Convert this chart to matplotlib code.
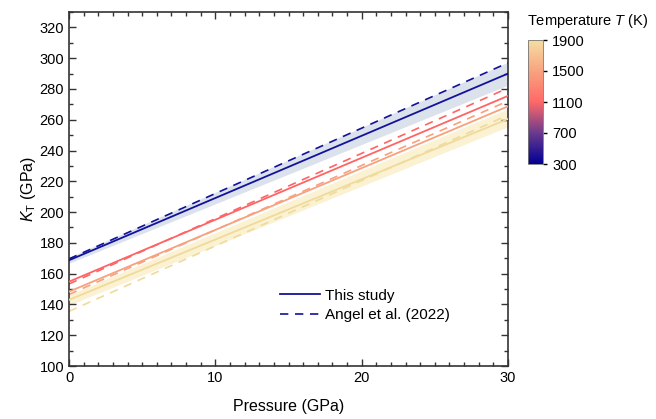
import matplotlib
matplotlib.use("Agg")
import matplotlib.pyplot as plt
from matplotlib.colors import LinearSegmentedColormap, Normalize
from matplotlib.ticker import MultipleLocator
from matplotlib.lines import Line2D
import matplotlib.cm as cm

plt.rcParams['font.family'] = ['Liberation Sans', 'DejaVu Sans']
plt.rcParams['mathtext.fontset'] = 'custom'
plt.rcParams['mathtext.rm'] = 'Liberation Sans'
plt.rcParams['mathtext.it'] = 'Liberation Sans:italic'

# ---- data ----
pressure = [0, 30]
temperatures = [300, 1100, 1500, 1900]
this_study = {
    300: [168.7, 290.0],
    1100: [154.8, 275.5],
    1500: [148.3, 268.7],
    1900: [143.0, 260.5],
}
angel2022 = {
    300: [169.6, 297.0],
    1100: [153.3, 280.6],
    1500: [146.5, 272.2],
    1900: [135.5, 263.0],
}
band_lo = {300: [166.8, 282.5], 1900: [139.6, 255.5]}
band_hi = {300: [170.6, 297.4], 1900: [146.3, 267.2]}
line_colors = {300: '#12129a', 1100: '#ff6464', 1500: '#f9a07c', 1900: '#f0da9c'}
band_colors = {300: '#dbe2ec', 1900: '#faf2d2'}
cbar_ticks = [300, 700, 1100, 1500, 1900]
cmap_nodes = ['#000094', '#6a3a8e', '#ff6868', '#f8a37f', '#f5dea2']

fig = plt.figure(figsize=(6.56, 4.19), dpi=100)
ax = fig.add_axes([69/656, 53/419, 439/656, 354/419])

for T in [300, 1900]:
    ax.fill_between(pressure, band_lo[T], band_hi[T], color=band_colors[T], lw=0, zorder=1)
for T in temperatures:
    ax.plot(pressure, angel2022[T], color=line_colors[T], lw=1.2, ls=(0, (5, 4)), zorder=2)
for T in temperatures:
    ax.plot(pressure, this_study[T], color=line_colors[T], lw=1.3, zorder=3)

ax.set_xlim(0, 30)
ax.set_ylim(100, 330)
ax.xaxis.set_major_locator(MultipleLocator(10))
ax.xaxis.set_minor_locator(MultipleLocator(1))
ax.yaxis.set_major_locator(MultipleLocator(20))
ax.yaxis.set_minor_locator(MultipleLocator(10))
ax.tick_params(which='both', direction='in', top=True, right=True, labelsize=10.5, color='#333333')
ax.tick_params(which='major', length=5, width=1)
ax.tick_params(which='minor', length=3, width=1)
for s in ax.spines.values():
    s.set_linewidth(1.2)
    s.set_color('#333333')
ax.set_xlabel('Pressure (GPa)', fontsize=11.5, labelpad=10)
ax.set_ylabel(r'$K_\mathrm{T}$ (GPa)', fontsize=11.5, labelpad=1)

handles = [Line2D([], [], color=line_colors[300], lw=1.3),
           Line2D([], [], color=line_colors[300], lw=1.2, ls=(0, (5, 4)))]
ax.legend(handles, ['This study', 'Angel et al. (2022)'], loc='lower left',
          bbox_to_anchor=(0.45, 0.085), frameon=False, fontsize=11,
          handlelength=2.6, handletextpad=0.35, labelspacing=0.35)

cmap = LinearSegmentedColormap.from_list('tcmap', cmap_nodes)
norm = Normalize(vmin=300, vmax=1900)
cax = fig.add_axes([528/656, (419-164)/419, 15/656, 124/419])
cb = fig.colorbar(cm.ScalarMappable(norm=norm, cmap=cmap), cax=cax, ticks=cbar_ticks)
cb.outline.set_linewidth(0.6)
cb.outline.set_edgecolor('#777777')
cax.tick_params(labelsize=10.5, length=3, width=1, direction='out')
fig.text(527/656, 1 - 21/419, r'Temperature $T$ (K)', fontsize=10.5, va='center', ha='left')

fig.savefig('out.png', dpi=100)
